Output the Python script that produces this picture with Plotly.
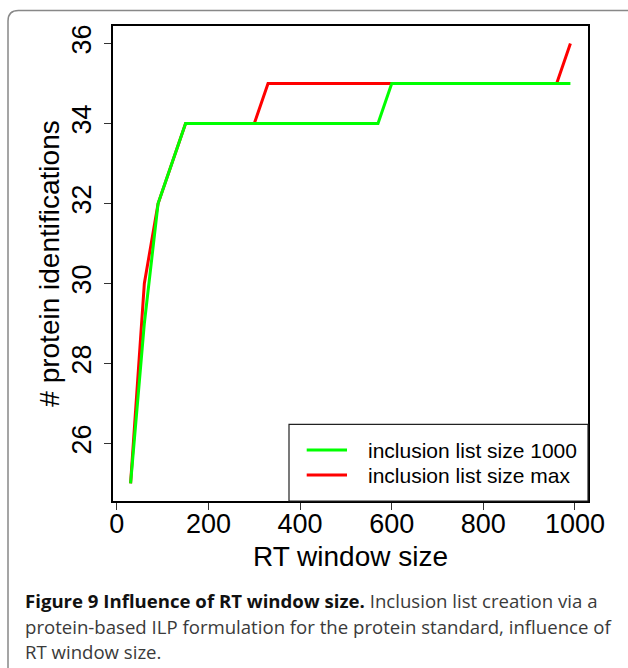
import plotly.graph_objects as go

# ---- data ----
rt_window = [30, 60, 90, 120, 150, 180, 210, 240, 270, 300, 330, 360, 390, 420, 450,
             480, 510, 540, 570, 600, 630, 660, 690, 720, 750, 780, 810, 840, 870, 900,
             930, 960, 990]
ids_size_1000 = [25, 29, 32, 33, 34, 34, 34, 34, 34, 34, 34, 34, 34, 34, 34,
                 34, 34, 34, 34, 35, 35, 35, 35, 35, 35, 35, 35, 35, 35, 35,
                 35, 35, 35]
ids_size_max = [25, 30, 32, 33, 34, 34, 34, 34, 34, 34, 35, 35, 35, 35, 35,
                35, 35, 35, 35, 35, 35, 35, 35, 35, 35, 35, 35, 35, 35, 35,
                35, 35, 36]
x_ticks = [0, 200, 400, 600, 800, 1000]
y_ticks = [26, 28, 30, 32, 34, 36]
series_names = ["inclusion list size 1000", "inclusion list size max"]
series_colors = ["#00FF00", "#FF0000"]

W, H = 628, 668
L, R, T, B = 113, 40, 26, 167
PW, PH = W - L - R, H - T - B

def px(x):
    return (x - L) / PW

def py(y):
    return (H - B - y) / PH

fig = go.Figure()
# red first so green overlays it
fig.add_trace(go.Scatter(x=rt_window, y=ids_size_max, mode="lines",
                         line=dict(color=series_colors[1], width=3),
                         name=series_names[1], showlegend=False))
fig.add_trace(go.Scatter(x=rt_window, y=ids_size_1000, mode="lines",
                         line=dict(color=series_colors[0], width=3),
                         name=series_names[0], showlegend=False))

axis_font = dict(family="Liberation Sans, Arial, sans-serif", size=27, color="black")
title_font = dict(family="Liberation Sans, Arial, sans-serif", size=28, color="black")

fig.update_layout(
    width=W, height=H,
    margin=dict(l=L, r=R, t=T, b=B),
    paper_bgcolor="white", plot_bgcolor="white",
    xaxis=dict(range=[-8.4, 1028.4], tickvals=x_ticks, ticks="outside", ticklen=7,
               tickcolor="#333", tickwidth=1, showline=True, mirror=True,
               linecolor="black", linewidth=1.5, showgrid=False, zeroline=False,
               tickfont=axis_font, ticklabelstandoff=-9,
               title=dict(text="RT window size", font=title_font, standoff=8)),
    yaxis=dict(range=[24.56, 36.44], tickvals=y_ticks, ticks="outside", ticklen=7,
               tickcolor="#333", tickwidth=1, showline=True, mirror=True,
               linecolor="black", linewidth=1.5, showgrid=False, zeroline=False,
               tickfont=axis_font, tickangle=-90, ticklabelstandoff=2,
               title=dict(text="# protein identifications", font=title_font, standoff=0)),
    showlegend=False,
)

shapes = []
# manual legend box (bottom-right)
shapes.append(dict(type="rect", xref="paper", yref="paper",
                   x0=px(289), x1=px(588), y0=py(501), y1=py(424.3),
                   line=dict(color="#222", width=1.2), fillcolor="white", layer="above"))
legend_rows_y = [450, 475]
for c, yy in zip(series_colors, legend_rows_y):
    shapes.append(dict(type="line", xref="paper", yref="paper",
                       x0=px(306.7), x1=px(347), y0=py(yy), y1=py(yy),
                       line=dict(color=c, width=3), layer="above"))
# outer rounded frame
path = (f"M {px(8)},{py(700)} L {px(8)},{py(21)} Q {px(8)},{py(10.5)} {px(18.5)},{py(10.5)} "
        f"L {px(660)},{py(10.5)}")
shapes.append(dict(type="path", xref="paper", yref="paper", path=path,
                   line=dict(color="#888", width=1.5)))
fig.update_layout(shapes=shapes)

annotations = []
for name, yy in zip(series_names, legend_rows_y):
    annotations.append(dict(xref="paper", yref="paper", x=px(366), y=py(yy),
                            xanchor="left", yanchor="middle", showarrow=False,
                            text=name,
                            font=dict(family="Liberation Sans, Arial, sans-serif", size=21, color="black")))

cap_font = dict(family="Open Sans, Noto Sans, sans-serif", size=18.6, color="#3a3a3a")
caption_lines = [
    "<b style='color:#111'>Figure 9 Influence of RT window size.</b> Inclusion list creation via a",
    "protein-based ILP formulation for the protein standard, influence of",
    "RT window size.",
]
for line, yy in zip(caption_lines, [600, 626, 651]):
    annotations.append(dict(xref="paper", yref="paper", x=px(23), y=py(yy),
                            xanchor="left", yanchor="middle", showarrow=False,
                            text=line, font=cap_font))
fig.update_layout(annotations=annotations)

fig.write_html("out.html", config={"displayModeBar": False},
               post_script="document.body.style.margin='0';document.body.style.overflow='hidden';")
